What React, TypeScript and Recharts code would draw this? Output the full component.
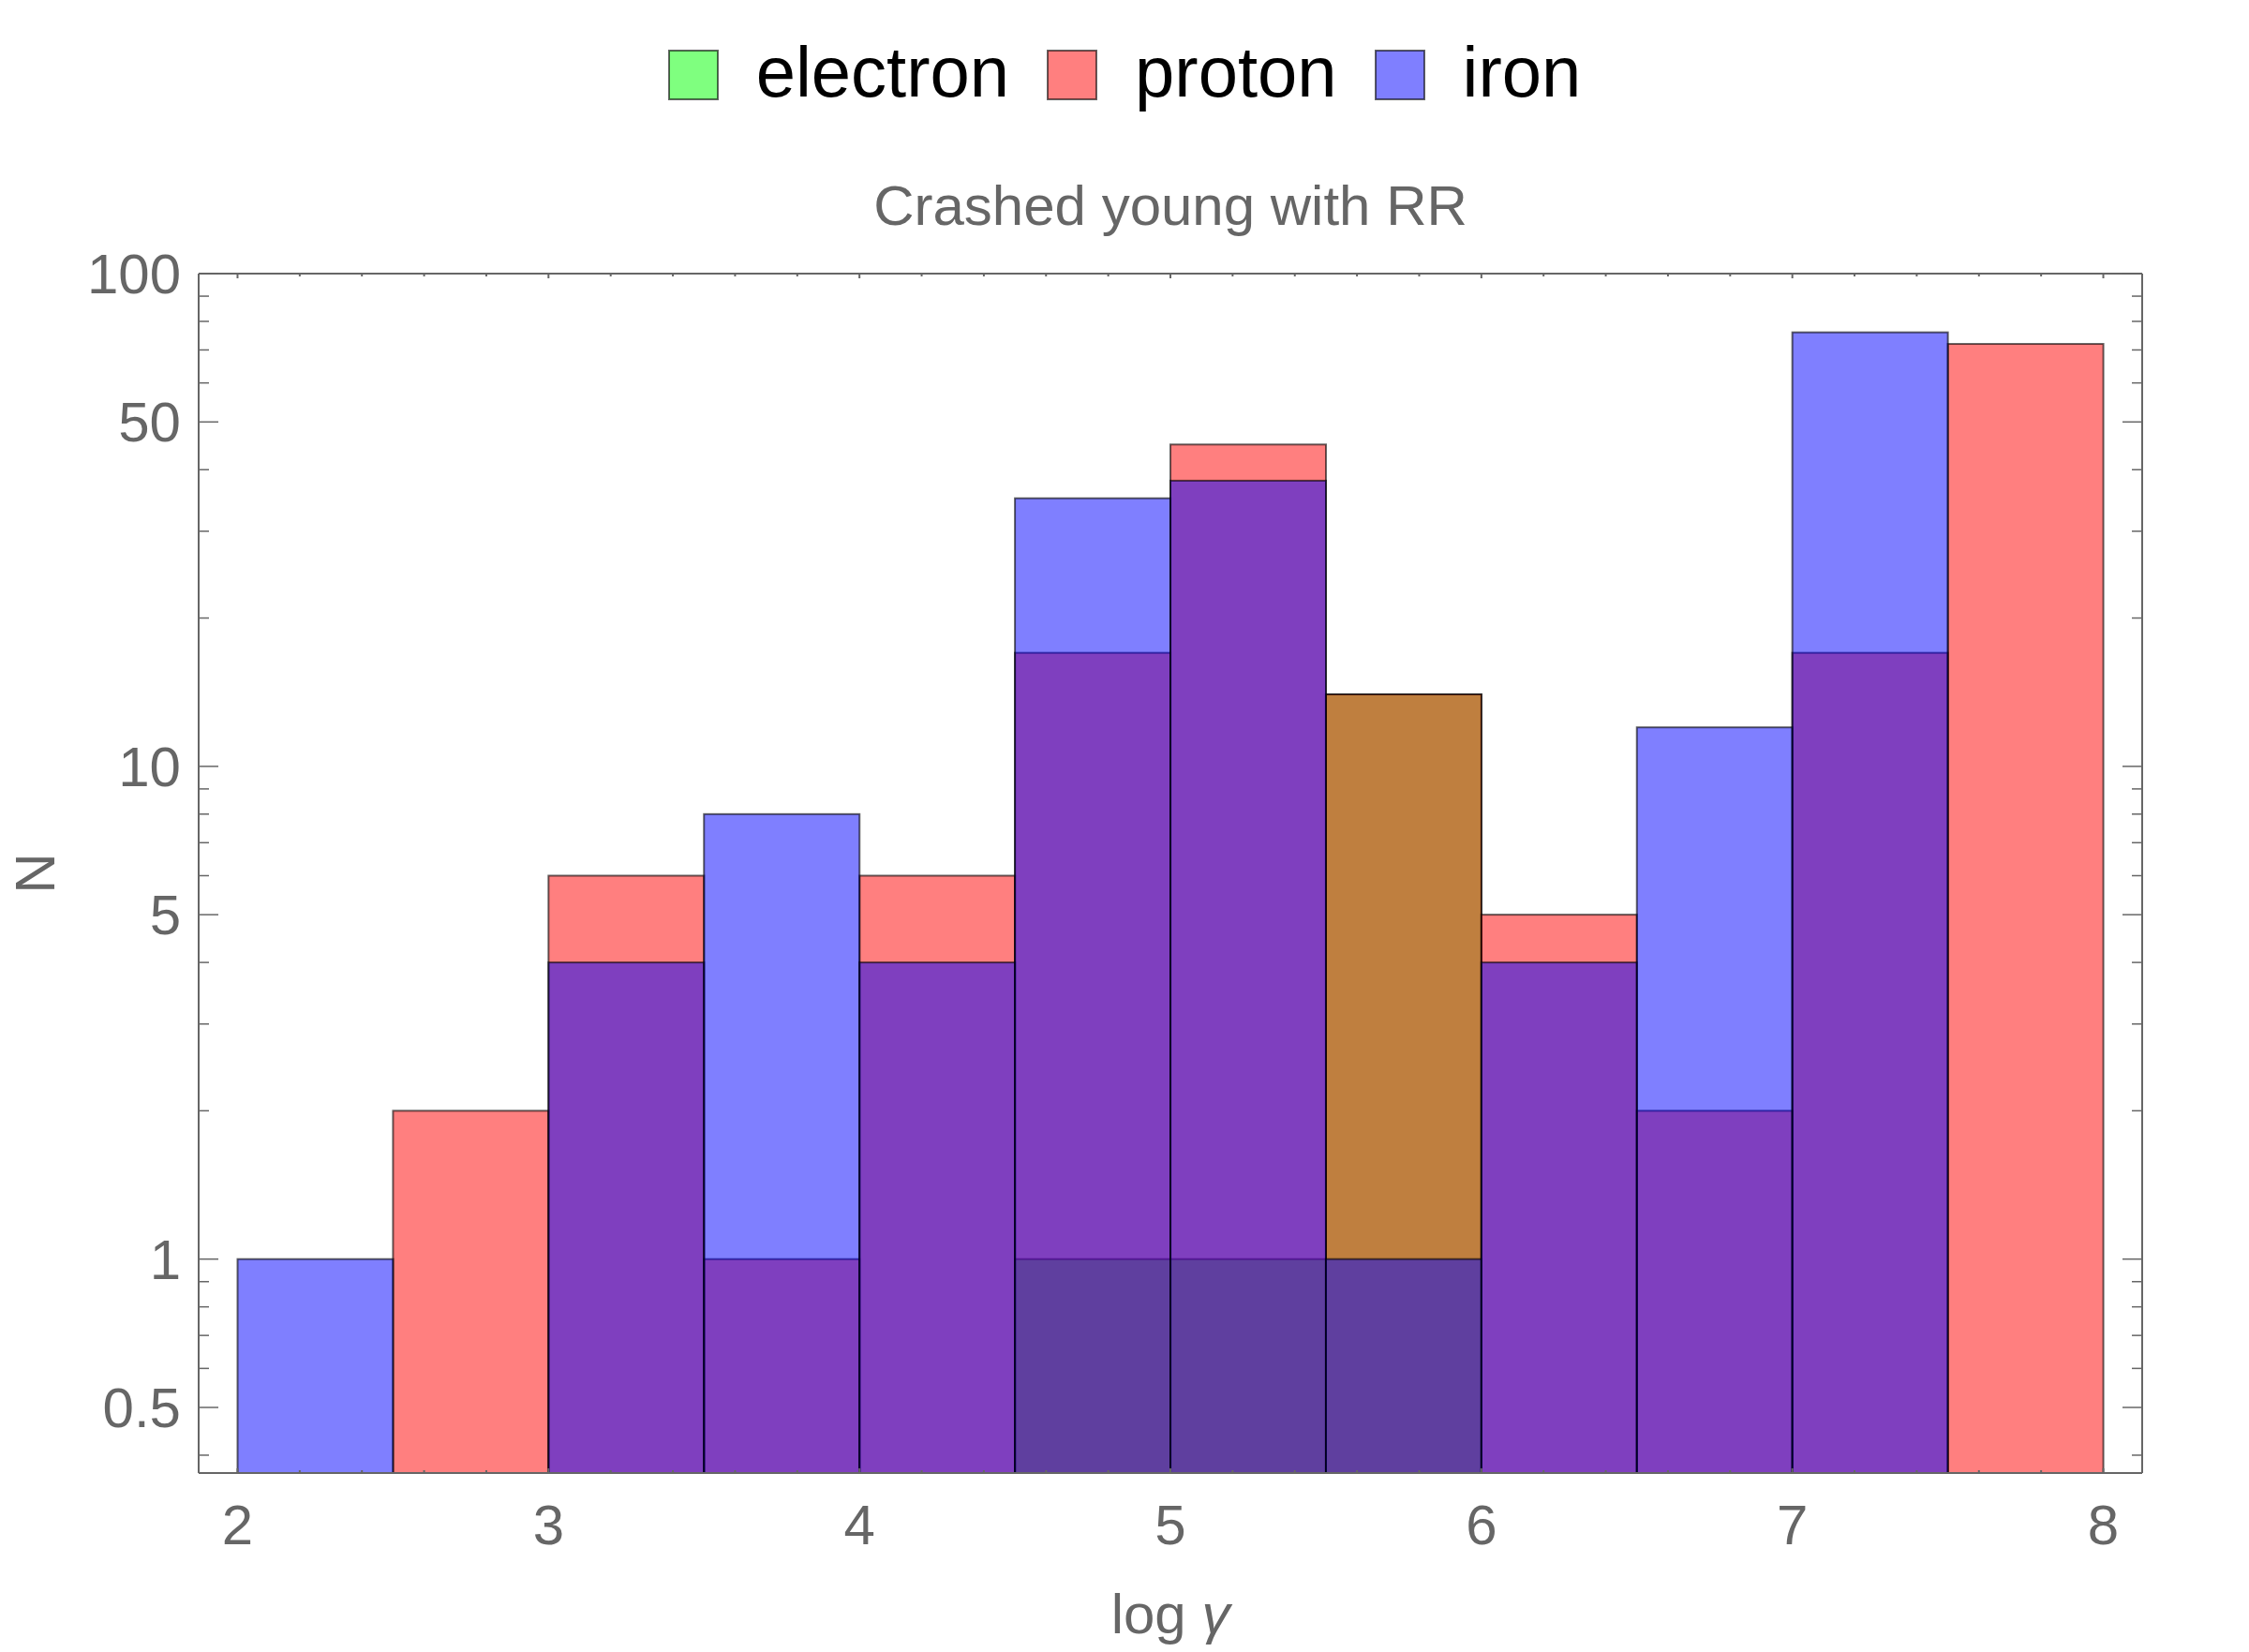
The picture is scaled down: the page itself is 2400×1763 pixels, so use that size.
import { Bar, BarChart, Legend, XAxis, YAxis } from "recharts";

const FONT = '"Liberation Sans", Arial, Helvetica, sans-serif';
const GREY = "#666666";

// histogram bins (width 0.5 in log gamma), counts per species; null = empty bin
const BIN_CENTERS = [2.25, 2.75, 3.25, 3.75, 4.25, 4.75, 5.25, 5.75, 6.25, 6.75, 7.25, 7.75];
const ELECTRON = [null, null, null, null, null, 1, 1, 14, null, null, null, null];
const PROTON = [null, 2, 6, 1, 6, 17, 45, 14, 5, 2, 17, 72];
const IRON = [1, null, 4, 8, 4, 35, 38, 1, 4, 12, 76, null];

const SERIES = [
  { key: "electron", color: "#00ff00" },
  { key: "proton", color: "#ff0000" },
  { key: "iron", color: "#0000ff" },
];

const X_MAJOR = [2, 3, 4, 5, 6, 7, 8];
const X_MINOR = [
  2.2, 2.4, 2.6, 2.8, 3.2, 3.4, 3.6, 3.8, 4.2, 4.4, 4.6, 4.8,
  5.2, 5.4, 5.6, 5.8, 6.2, 6.4, 6.6, 6.8, 7.2, 7.4, 7.6, 7.8,
];
const Y_MAJOR = [0.5, 1, 5, 10, 50, 100];
const Y_MINOR = [0.4, 0.6, 0.7, 0.8, 0.9, 2, 3, 4, 6, 7, 8, 9, 20, 30, 40, 60, 70, 80, 90];

const X_DOMAIN = [1.875, 8.125];
const Y_DOMAIN = [0.368, 100];

const data = BIN_CENTERS.map((bin, i) => ({
  bin,
  electron: ELECTRON[i],
  proton: PROTON[i],
  iron: IRON[i],
}));

const xTicks = [...X_MAJOR, ...X_MINOR].sort((a, b) => a - b);
const yTicks = [...Y_MAJOR, ...Y_MINOR].sort((a, b) => a - b);

const frame = { stroke: GREY, strokeWidth: 2 };

function BottomTick({ x, y, payload }: any) {
  const major = X_MAJOR.includes(payload.value);
  return (
    <g>
      <line x1={x} x2={x} y1={y} y2={y - (major ? 5 : 3)} stroke={GREY} strokeWidth={2} />
      {major && (
        <text x={x} y={y + 76} textAnchor="middle" fontSize={60} fill={GREY} fontFamily={FONT}>
          {payload.value}
        </text>
      )}
    </g>
  );
}

function TopTick({ x, y, payload }: any) {
  const major = X_MAJOR.includes(payload.value);
  return <line x1={x} x2={x} y1={y} y2={y + (major ? 5 : 3)} stroke={GREY} strokeWidth={2} />;
}

function LeftTick({ x, y, payload }: any) {
  const major = Y_MAJOR.includes(payload.value);
  return (
    <g>
      <line x1={x} x2={x + (major ? 21 : 11)} y1={y} y2={y} stroke={GREY} strokeWidth={1.5} />
      {major && (
        <text x={x - 19} y={y + 21} textAnchor="end" fontSize={60} fill={GREY} fontFamily={FONT}>
          {payload.value}
        </text>
      )}
    </g>
  );
}

function RightTick({ x, y, payload }: any) {
  const major = Y_MAJOR.includes(payload.value);
  return <line x1={x} x2={x - (major ? 21 : 11)} y1={y} y2={y} stroke={GREY} strokeWidth={1.5} />;
}

function histShape(props: any) {
  const { x, y, width, height, fill } = props;
  if (![x, y, width, height].every(Number.isFinite) || height <= 0) return null;
  return (
    <rect
      x={x}
      y={y}
      width={width}
      height={height}
      fill={fill}
      fillOpacity={0.5}
      stroke="#000"
      strokeOpacity={0.6}
      strokeWidth={2}
    />
  );
}

function renderLegend({ payload }: any) {
  const order = SERIES.map((s) => s.key);
  const items = [...(payload || [])].sort((a: any, b: any) => order.indexOf(a.value) - order.indexOf(b.value));
  return (
    <div
      style={{
        display: "flex",
        justifyContent: "center",
        alignItems: "flex-start",
        fontFamily: FONT,
        fontSize: 76,
        color: "#000",
      }}
    >
      {items.map((entry: any, i: number) => (
        <div key={entry.value} style={{ display: "flex", alignItems: "flex-start", marginLeft: i === 0 ? 0 : 40 }}>
          <svg width={54} height={54} style={{ marginTop: 53 }}>
            <rect x={1} y={1} width={52} height={52} fill={entry.color} fillOpacity={0.5} stroke="#000" strokeOpacity={0.6} strokeWidth={2} />
          </svg>
          <span style={{ marginLeft: 40, marginTop: 39, lineHeight: "76px" }}>{entry.value}</span>
        </div>
      ))}
    </div>
  );
}

export default function App() {
  return (
    <div style={{ position: "absolute", left: 0, top: 0, width: 2400, height: 1763, background: "#fff" }}>
      <BarChart
        width={2400}
        height={1763}
        data={data}
        margin={{ top: 0, right: 0, bottom: 0, left: 0 }}
        barCategoryGap={0}
        barGap={0}
      >
        {SERIES.map((s) => (
          <XAxis
            key={s.key}
            xAxisId={s.key}
            dataKey="bin"
            type="category"
            hide
            padding={{ left: 41.5, right: 41.5 }}
          />
        ))}
        <XAxis
          xAxisId="bottom"
          dataKey="bin"
          type="number"
          domain={X_DOMAIN}
          allowDataOverflow
          ticks={xTicks}
          interval={0}
          height={191}
          tickLine={false}
          tickSize={0}
          tickMargin={0}
          axisLine={frame}
          tick={BottomTick}
          label={({ viewBox }: any) => {
            const vb = viewBox || { x: 212, y: 1572, width: 2074 };
            return (
              <text x={vb.x + vb.width / 2} y={vb.y + 171} textAnchor="middle" fontSize={60} fill={GREY} fontFamily={FONT}>
                log <tspan fontStyle="italic">γ</tspan>
              </text>
            );
          }}
        />
        <XAxis
          xAxisId="top"
          orientation="top"
          dataKey="bin"
          type="number"
          domain={X_DOMAIN}
          allowDataOverflow
          ticks={xTicks}
          interval={0}
          height={292}
          tickLine={false}
          tickSize={0}
          tickMargin={0}
          axisLine={frame}
          tick={TopTick}
          label={({ viewBox }: any) => {
            const vb = viewBox || { x: 212, y: 0, width: 2074 };
            return (
              <text x={vb.x + vb.width / 2} y={240} textAnchor="middle" fontSize={60} fill={GREY} fontFamily={FONT}>
                Crashed young with RR
              </text>
            );
          }}
        />
        <YAxis
          yAxisId="left"
          type="number"
          scale="log"
          domain={Y_DOMAIN}
          allowDataOverflow
          ticks={yTicks}
          interval={0}
          width={212}
          tickLine={false}
          tickSize={0}
          tickMargin={0}
          axisLine={frame}
          tick={LeftTick}
          label={({ viewBox }: any) => {
            const vb = viewBox || { y: 292, height: 1280 };
            const cy = vb.y + vb.height / 2;
            return (
              <text x={58} y={cy} transform={`rotate(-90, 58, ${cy})`} textAnchor="middle" fontSize={60} fill={GREY} fontFamily={FONT}>
                N
              </text>
            );
          }}
        />
        <YAxis
          yAxisId="right"
          orientation="right"
          type="number"
          scale="log"
          domain={Y_DOMAIN}
          allowDataOverflow
          ticks={yTicks}
          interval={0}
          width={114}
          tickLine={false}
          tickSize={0}
          tickMargin={0}
          axisLine={frame}
          tick={RightTick}
        />
        <Legend
          layout="horizontal"
          verticalAlign="middle"
          align="center"
          wrapperStyle={{ top: 0, left: 0, width: 2400, height: 160 }}
          content={renderLegend}
        />
        {SERIES.map((s) => (
          <Bar
            key={s.key}
            name={s.key}
            dataKey={s.key}
            xAxisId={s.key}
            yAxisId="left"
            fill={s.color}
            shape={histShape}
            isAnimationActive={false}
          />
        ))}
      </BarChart>
    </div>
  );
}
